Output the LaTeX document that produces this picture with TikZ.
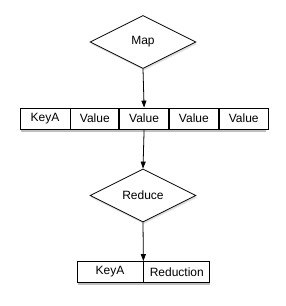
\documentclass[tikz,border=0pt]{standalone}
\usepackage{fontspec}
\setmainfont{Liberation Sans}
\usetikzlibrary{arrows.meta, positioning, shapes.geometric, shadows}

\tikzset{
  stepdiamond/.style={diamond, draw, fill=white, inner sep=0pt, minimum width=106pt, minimum height=53pt,
    drop shadow={opacity=0.25, shadow xshift=1pt, shadow yshift=-2pt}},
  cellbox/.style={rectangle, draw, fill=white, inner sep=0pt, minimum height=21pt},
  rowshadow/.style={fill=black, opacity=0.25},
  flow/.style={-{Triangle[length=7pt, width=5pt]}}
}

\begin{document}
\begin{tikzpicture}[x=1pt, y=1pt, line width=0.8pt, font=\fontsize{12}{14}\selectfont]
            \useasboundingbox (0,0) rectangle (285,306);

            % Map step
            \node[stepdiamond] (map) at (143,264) {Map};

            % Mapped row
            \fill[rowshadow] (21,174) rectangle (266,177);
            \node[cellbox, minimum width=50pt] (keyA) at (45,187.5) {KeyA};
            \node[cellbox, minimum width=48pt, right=0pt of keyA] (val1) {Value};
            \node[cellbox, minimum width=49pt, right=0pt of val1] (val2) {Value};
            \node[cellbox, minimum width=49pt, right=0pt of val2] (val3) {Value};
            \node[cellbox, minimum width=49pt, right=0pt of val3] (val4) {Value};

            % Reduce step
            \node[stepdiamond] (reduce) at (143,110.5) {Reduce};

            % Reduced row
            \fill[rowshadow] (78,21) rectangle (210,24);
            \node[cellbox, minimum width=66pt] (keyB) at (110,34) {KeyA};
            \node[cellbox, minimum width=66pt, right=0pt of keyB] (result) {Reduction};

            % Arrows
            \draw[flow] (map.south) -- (val2.north);
            \draw[flow] (val2.south) -- (reduce.north);
            \draw[flow] (reduce.south) -- (keyB.north east);
        \end{tikzpicture}
\end{document}
